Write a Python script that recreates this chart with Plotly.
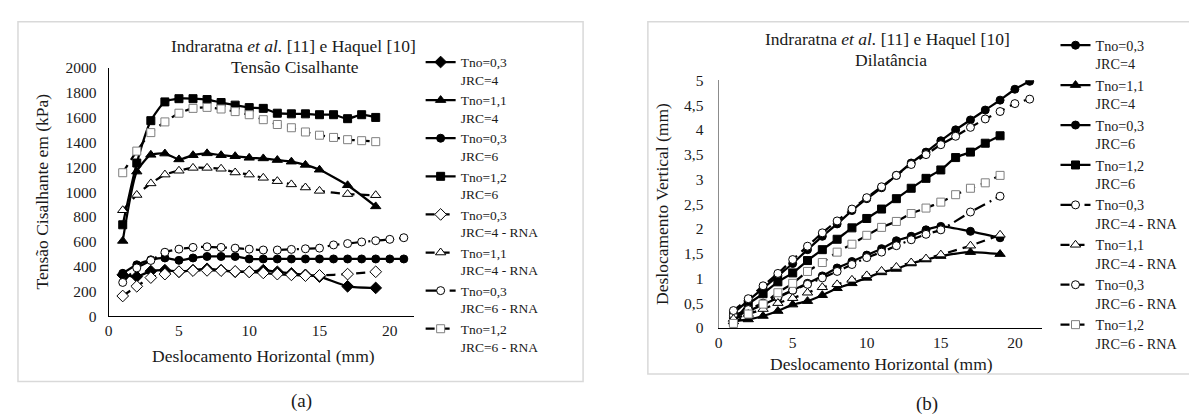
import plotly.graph_objects as go

# ---------------- data ----------------
x_jrc4 = [1, 2, 3, 4, 5, 6, 7, 8, 9, 10, 11, 12, 13, 14, 15, 17, 19]
x_t03_jrc6 = list(range(1, 22))
x_t12_jrc6 = list(range(1, 20))

legend_names = [
    "Tno=0,3<br>JRC=4", "Tno=1,1<br>JRC=4", "Tno=0,3<br>JRC=6", "Tno=1,2<br>JRC=6",
    "Tno=0,3<br>JRC=4 - RNA", "Tno=1,1<br>JRC=4 - RNA", "Tno=0,3<br>JRC=6 - RNA", "Tno=1,2<br>JRC=6 - RNA",
]

# (a) shear stress (kPa)
shear_t03_jrc4 = [334, 320, 364, 372, 359, 372, 383, 372, 359, 359, 372, 359, 346, 334, 320, 242, 229]
shear_t11_jrc4 = [607, 1165, 1300, 1310, 1263, 1297, 1312, 1297, 1289, 1276, 1271, 1258, 1245, 1219, 1180, 1055, 885]
shear_t03_jrc6 = [346, 415, 455, 470, 451, 470, 482, 482, 482, 462, 462, 462, 462, 462, 462, 462, 462, 462, 462, 462, 462]
shear_t12_jrc6 = [737, 1234, 1575, 1726, 1752, 1752, 1745, 1721, 1700, 1680, 1674, 1635, 1630, 1630, 1623, 1623, 1591, 1623, 1601]
shear_t03_jrc4_rna = [164, 242, 312, 340, 360, 368, 370, 368, 362, 358, 350, 340, 334, 328, 330, 340, 359]
shear_t11_jrc4_rna = [854, 977, 1070, 1141, 1172, 1195, 1195, 1188, 1158, 1141, 1115, 1088, 1062, 1037, 1010, 984, 975]
shear_t03_jrc6_rna = [273, 390, 450, 516, 541, 555, 560, 555, 549, 541, 534, 534, 539, 544, 549, 575, 586, 599, 609, 620, 633]
shear_t12_jrc6_rna = [1156, 1330, 1479, 1565, 1635, 1674, 1682, 1669, 1648, 1623, 1583, 1544, 1518, 1484, 1458, 1440, 1422, 1414, 1406]

# (b) dilation (mm)
dil_t03_jrc4 = [0.21, 0.34, 0.47, 0.61, 0.76, 0.90, 1.05, 1.21, 1.34, 1.47, 1.60, 1.76, 1.85, 1.98, 2.05, 1.95, 1.82]
dil_t11_jrc4 = [0.13, 0.17, 0.24, 0.34, 0.47, 0.54, 0.66, 0.80, 0.90, 1.01, 1.12, 1.19, 1.30, 1.38, 1.45, 1.53, 1.49]
dil_t03_jrc6 = [0.30, 0.55, 0.80, 1.05, 1.30, 1.58, 1.85, 2.10, 2.37, 2.61, 2.83, 3.08, 3.33, 3.55, 3.78, 4.00, 4.20, 4.40, 4.60, 4.82, 4.98]
dil_t12_jrc6 = [0.11, 0.48, 0.69, 0.93, 1.11, 1.36, 1.58, 1.79, 2.02, 2.21, 2.40, 2.61, 2.82, 3.02, 3.19, 3.44, 3.55, 3.73, 3.88]
dil_t03_jrc4_rna = [0.25, 0.37, 0.50, 0.63, 0.76, 0.88, 1.01, 1.14, 1.28, 1.42, 1.53, 1.66, 1.78, 1.89, 1.98, 2.34, 2.66]
dil_t11_jrc4_rna = [0.18, 0.28, 0.38, 0.50, 0.60, 0.71, 0.82, 0.88, 0.97, 1.06, 1.15, 1.23, 1.32, 1.40, 1.48, 1.66, 1.88]
dil_t03_jrc6_rna = [0.35, 0.59, 0.85, 1.10, 1.38, 1.65, 1.92, 2.16, 2.40, 2.63, 2.85, 3.08, 3.30, 3.50, 3.70, 3.87, 4.05, 4.22, 4.37, 4.53, 4.62]
dil_t12_jrc6_rna = [0.09, 0.28, 0.48, 0.71, 0.90, 1.14, 1.32, 1.53, 1.69, 1.87, 2.03, 2.15, 2.31, 2.42, 2.54, 2.69, 2.82, 2.93, 3.08]

# ---------------- helpers ----------------
W, H = 1197, 420
FONT = "Liberation Serif"
TXT = "#1a1a1a"


def px(x):
    return x / W


def py(y):
    return 1 - y / H


DASH = "9px,6px"
DASHDOT = "12px,5px,2px,5px"


def add(fig, x, y, name, symbol, filled, dash, xa, ya, legend, size=8, edge="black"):
    fig.add_trace(go.Scatter(
        x=x, y=y, name=name, mode="lines+markers",
        line=dict(color="black", width=2.25, dash=dash, shape="spline", smoothing=0.6),
        marker=dict(symbol=symbol, size=size,
                    color="black" if filled else "white",
                    line=dict(color="black" if filled else edge, width=1)),
        xaxis=xa, yaxis=ya, legend=legend,
    ))


fig = go.Figure()

# (a)
add(fig, x_jrc4, shear_t03_jrc4, legend_names[0], "diamond", True, "solid", "x", "y", "legend", 9)
add(fig, x_jrc4, shear_t11_jrc4, legend_names[1], "triangle-up", True, "solid", "x", "y", "legend", 9)
add(fig, x_t03_jrc6, shear_t03_jrc6, legend_names[2], "circle", True, "solid", "x", "y", "legend", 8)
add(fig, x_t12_jrc6, shear_t12_jrc6, legend_names[3], "square", True, "solid", "x", "y", "legend", 8)
add(fig, x_jrc4, shear_t03_jrc4_rna, legend_names[4], "diamond", False, DASH, "x", "y", "legend", 9)
add(fig, x_jrc4, shear_t11_jrc4_rna, legend_names[5], "triangle-up", False, DASH, "x", "y", "legend", 9)
add(fig, x_t03_jrc6, shear_t03_jrc6_rna, legend_names[6], "circle", False, DASHDOT, "x", "y", "legend", 8)
add(fig, x_t12_jrc6, shear_t12_jrc6_rna, legend_names[7], "square", False, DASH, "x", "y", "legend", 8, "#7f7f7f")

# (b)
add(fig, x_jrc4, dil_t03_jrc4, legend_names[0], "circle", True, "solid", "x2", "y2", "legend2", 8)
add(fig, x_jrc4, dil_t11_jrc4, legend_names[1], "triangle-up", True, "solid", "x2", "y2", "legend2", 9)
add(fig, x_t03_jrc6, dil_t03_jrc6, legend_names[2], "circle", True, "solid", "x2", "y2", "legend2", 8)
add(fig, x_t12_jrc6, dil_t12_jrc6, legend_names[3], "square", True, "solid", "x2", "y2", "legend2", 8)
add(fig, x_jrc4, dil_t03_jrc4_rna, legend_names[4], "circle", False, DASHDOT, "x2", "y2", "legend2", 8)
add(fig, x_jrc4, dil_t11_jrc4_rna, legend_names[5], "triangle-up", False, DASH, "x2", "y2", "legend2", 9)
add(fig, x_t03_jrc6, dil_t03_jrc6_rna, legend_names[6], "circle", False, DASH, "x2", "y2", "legend2", 8)
add(fig, x_t12_jrc6, dil_t12_jrc6_rna, legend_names[7], "square", False, DASH, "x2", "y2", "legend2", 8, "#7f7f7f")

tickfont = dict(family=FONT, size=15.5, color=TXT)
axis_common = dict(showgrid=False, zeroline=False, ticks="", tickfont=tickfont, showline=True, linewidth=1.2)

fig.update_layout(
    width=W, height=H,
    margin=dict(l=0, r=0, t=0, b=0),
    paper_bgcolor="white", plot_bgcolor="white",
    separators=", ",
    font=dict(family=FONT, color=TXT),
    xaxis=dict(domain=[px(97), px(403)], range=[0, 21.7], dtick=5, tick0=0, linecolor="black",
               anchor="y", **axis_common),
    yaxis=dict(domain=[py(312), py(53)], range=[0, 2000], dtick=200, tick0=0, linecolor="black",
               anchor="x", ticklabelstandoff=8, **axis_common),
    xaxis2=dict(domain=[px(709), px(1033)], range=[0, 21.8], dtick=5, tick0=0, linecolor="black",
                anchor="y2", **axis_common),
    yaxis2=dict(domain=[py(324), py(66)], range=[0, 5], dtick=0.5, tick0=0, linecolor="#8c8c8c",
                anchor="x2", ticklabelstandoff=11, **axis_common),
    legend=dict(x=px(410), y=py(31), xanchor="left", yanchor="top", valign="top",
                font=dict(family=FONT, size=13.5, color=TXT), bgcolor="rgba(0,0,0,0)",
                tracegroupgap=0, itemwidth=30),
    legend2=dict(x=px(1047), y=py(13), xanchor="left", yanchor="top", valign="top",
                 font=dict(family=FONT, size=14.2, color=TXT), bgcolor="rgba(0,0,0,0)",
                 tracegroupgap=0, itemwidth=30),
    showlegend=True,
)

# chart area borders
fig.add_shape(type="rect", xref="paper", yref="paper", x0=px(6), x1=px(573), y0=py(380), y1=py(5),
              line=dict(color="#d9d9d9", width=1.5), fillcolor="rgba(0,0,0,0)", layer="below")
fig.add_shape(type="rect", xref="paper", yref="paper", x0=px(638), x1=px(1200), y0=py(372), y1=py(5),
              line=dict(color="#d9d9d9", width=1.5), fillcolor="rgba(0,0,0,0)", layer="below")

ann = []


def text(x, y, s, size=17.5, angle=0):
    ann.append(dict(x=px(x), y=py(y), xref="paper", yref="paper", text=s, showarrow=False,
                    xanchor="center", yanchor="middle", textangle=angle,
                    font=dict(family=FONT, size=size, color=TXT)))


text(282, 30, "Indraratna <i>et al.</i> [11] e Haquel [10]")
text(284, 52, "Tensão Cisalhante")
text(878, 23, "Indraratna <i>et al.</i> [11] e Haquel [10]")
text(882, 45, "Dilatância")
text(30, 182, "Tensão Cisalhante em (kPa)", 17.5, -90)
text(652, 195, "Deslocamento Vertical (mm)", 17.5, -90)
text(252, 353, "Deslocamento Horizontal (mm)")
text(872, 362, "Deslocamento Horizontal (mm)")
text(290, 400, "(a)", 19)
text(918, 403, "(b)", 19)
fig.update_layout(annotations=ann)

fig.write_html("out.html")
